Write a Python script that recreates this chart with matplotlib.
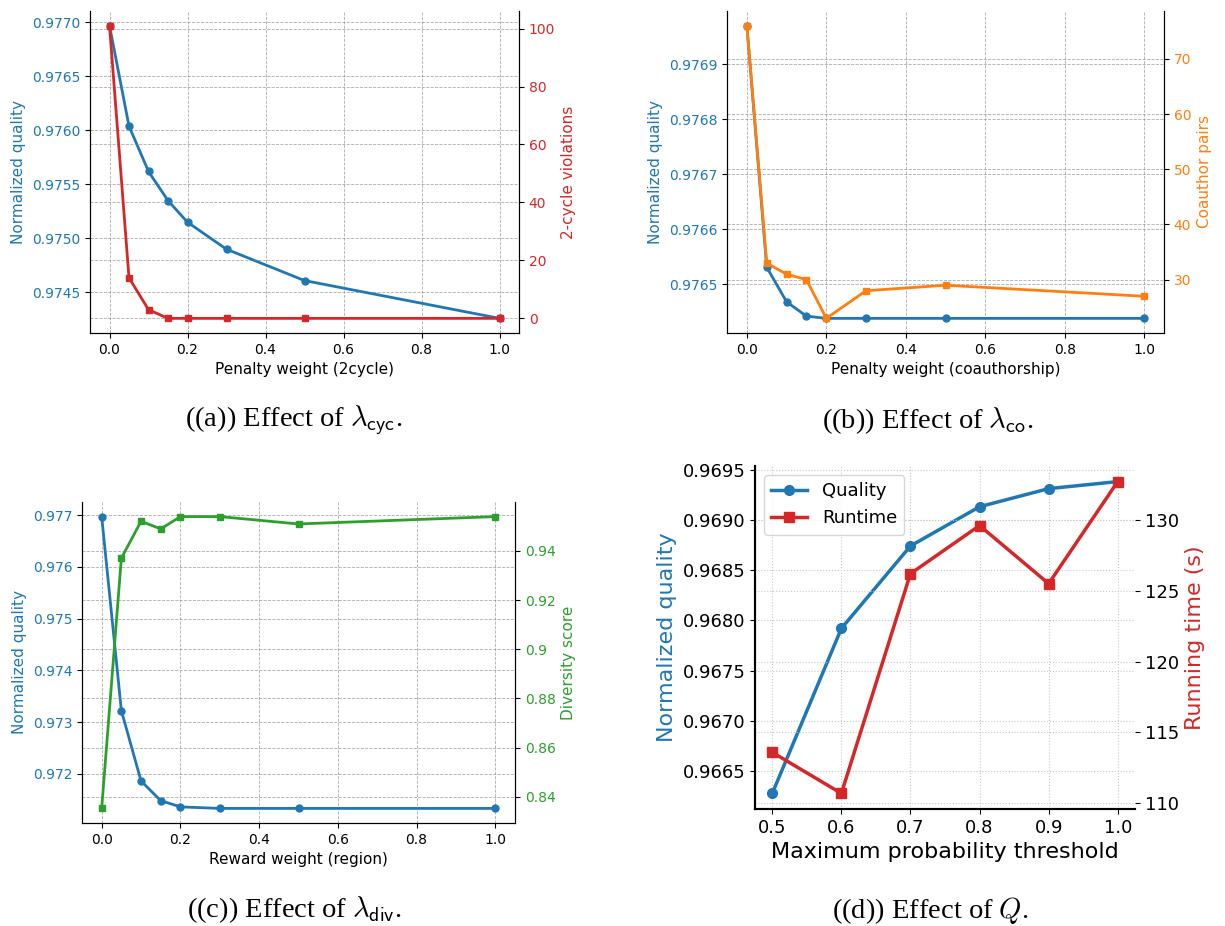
import matplotlib
matplotlib.use('Agg')
import matplotlib.pyplot as plt
from matplotlib.ticker import FuncFormatter

plt.rcParams['mathtext.fontset'] = 'cm'

# sweeps for panels (a)-(c)
weights = [0.0, 0.05, 0.1, 0.15, 0.2, 0.3, 0.5, 1.0]
quality_cyc = [0.97697, 0.97604, 0.97562, 0.97535, 0.97515, 0.97490, 0.97461, 0.97426]
violations_cyc = [101, 14, 3, 0, 0, 0, 0, 0]
quality_co = [0.97697, 0.976531, 0.976468, 0.976442, 0.976438, 0.976438, 0.976438, 0.976438]
pairs_co = [76, 33, 31, 30, 23, 28, 29, 27]
quality_div = [0.97697, 0.97322, 0.97186, 0.97148, 0.97136, 0.97133, 0.97133, 0.97133]
diversity_div = [0.8353, 0.9370, 0.9520, 0.9489, 0.9539, 0.9539, 0.9509, 0.9539]

# panel (d)
thresholds = [0.5, 0.6, 0.7, 0.8, 0.9, 1.0]
quality_q = [0.96628, 0.96792, 0.96874, 0.96913, 0.96931, 0.96938]
runtime_q = [113.6, 110.7, 126.2, 129.6, 125.5, 132.7]

W, H = 1225, 926
fig = plt.figure(figsize=(W / 100, H / 100), dpi=100)


def px_rect(left, top, right, bottom):
    return [left / W, 1 - bottom / H, (right - left) / W, (bottom - top) / H]


def caption(x, y, s):
    fig.text(x / W, 1 - y / H, s, ha='center', va='center',
             family='Liberation Serif', fontsize=20.5)


def sweep_panel(rect, x, q, other, color, xlabel, ylabel2, fmt2=None):
    ax = fig.add_axes(rect)
    ax.plot(x, q, color='tab:blue', marker='o', ms=5, lw=2)
    ax.set_xlabel(xlabel, fontsize=11)
    ax.set_ylabel('Normalized quality', color='tab:blue', fontsize=11)
    ax.tick_params(axis='y', labelcolor='tab:blue', labelsize=10)
    ax.tick_params(axis='x', labelsize=10)
    ax.ticklabel_format(axis='y', useOffset=False)
    ax.grid(True, ls='--', lw=0.6, color='gray', alpha=0.65)

    ax2 = ax.twinx()
    ax2.plot(x, other, color=color, marker='s', ms=5, lw=2)
    ax2.set_ylabel(ylabel2, color=color, fontsize=11)
    ax2.tick_params(axis='y', labelcolor=color, labelsize=10)
    if fmt2:
        ax2.yaxis.set_major_formatter(FuncFormatter(fmt2))
    ax2.grid(True, ls='--', lw=0.6, color='gray', alpha=0.65)
    for a in (ax, ax2):
        a.spines['top'].set_visible(False)
    return ax, ax2


sweep_panel(px_rect(90, 11, 519, 333), weights, quality_cyc, violations_cyc,
            'tab:red', 'Penalty weight (2cycle)', '2-cycle violations')
caption(294, 421, r'((a)) Effect of $\lambda_{\mathsf{cyc}}$.')

sweep_panel(px_rect(727, 11, 1164, 333), weights, quality_co, pairs_co,
            'tab:orange', 'Penalty weight (coauthorship)', 'Coauthor pairs')
caption(928, 421, r'((b)) Effect of $\lambda_{\mathsf{co}}$.')

sweep_panel(px_rect(82, 502, 515, 823), weights, quality_div, diversity_div,
            'tab:green', 'Reward weight (region)', 'Diversity score',
            fmt2=lambda v, p: '%g' % round(v, 4))
caption(295, 910, r'((c)) Effect of $\lambda_{\mathsf{div}}$.')

# panel (d): threshold sweep
ax = fig.add_axes(px_rect(755, 466, 1135, 809))
l1 = ax.plot(thresholds, quality_q, color='tab:blue', marker='o', ms=7, lw=2.5,
             label='Quality')
ax.set_xlabel('Maximum probability threshold', fontsize=16)
ax.set_ylabel('Normalized quality', color='tab:blue', fontsize=16)
ax.tick_params(labelsize=13)
ax.ticklabel_format(axis='y', useOffset=False)
ax.grid(True, ls=':', lw=0.8, color='#c8c8c8')

ax2 = ax.twinx()
l2 = ax2.plot(thresholds, runtime_q, color='tab:red', marker='s', ms=7, lw=2.5,
              label='Runtime')
ax2.set_ylabel('Running time (s)', color='tab:red', fontsize=16)
ax2.tick_params(labelsize=13)
ax2.grid(True, ls=':', lw=0.8, color='#c8c8c8')
for a in (ax, ax2):
    a.spines['top'].set_visible(False)
    a.spines['right'].set_visible(False)
    a.spines['left'].set_linewidth(1.5)
    a.spines['bottom'].set_linewidth(1.5)
ax2.legend(l1 + l2, ['Quality', 'Runtime'], loc='upper left', fontsize=13)
caption(930, 910, r'((d)) Effect of $Q$.')

fig.savefig('out.png', dpi=100)
